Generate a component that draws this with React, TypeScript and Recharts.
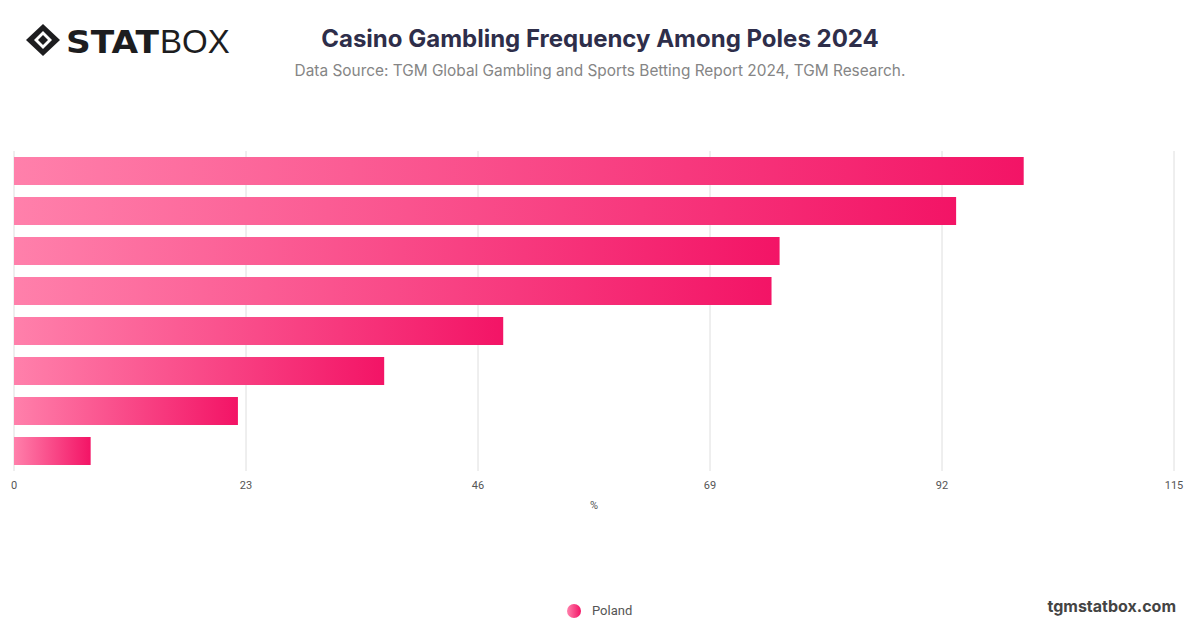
import React from "react";
import { Bar, BarChart, CartesianGrid, XAxis, YAxis } from "recharts";

const categories = ["A", "B", "C", "D", "E", "F", "G", "H"];
const poland = [100.1, 93.4, 75.9, 75.1, 48.5, 36.7, 22.2, 7.6];
const xTicks = [0, 23, 46, 69, 92, 115];

const data = categories.map((c, i) => ({ category: c, Poland: poland[i] }));

function Logo() {
  return (
    <svg width={210} height={40} style={{ position: "absolute", left: 24, top: 21 }}>
      <g transform="translate(19,19)">
        <path d="M0,-16 L17,0 L0,16 L-17,0 Z" fill="#1d1d1f" />
        <path d="M0,-9 L9,0 L0,9 L-9,0 Z" fill="#fff" />
        <path d="M0,-5 L5,0 L0,5 L-5,0 Z" fill="#1d1d1f" />
      </g>
      <text x={42} y={32} fontFamily="DejaVu Sans, sans-serif" fontWeight={900} fontSize={32} fill="#1d1d1f" textLength={93} lengthAdjust="spacingAndGlyphs">
        STAT
      </text>
      <text x={136} y={32} fontFamily="Liberation Sans, sans-serif" fontWeight={300} fontSize={33} fill="#1d1d1f">
        BOX
      </text>
    </svg>
  );
}

export default function App() {
  return (
    <div style={{ position: "absolute", left: 0, top: 0, width: 1200, height: 628, background: "#fff", fontFamily: "Inter, sans-serif" }}>
      <Logo />
      <div style={{ position: "absolute", left: 0, width: 1200, top: 24, textAlign: "center", fontSize: 24, fontWeight: 700, color: "#2e2e4a" }}>
        Casino Gambling Frequency Among Poles 2024
      </div>
      <div style={{ position: "absolute", left: 0, width: 1200, top: 61, textAlign: "center", fontSize: 15.4, color: "#858585" }}>
        Data Source: TGM Global Gambling and Sports Betting Report 2024, TGM Research.
      </div>
      <div style={{ position: "absolute", left: 0, top: 0 }}>
        <BarChart
          width={1200}
          height={628}
          data={data}
          layout="vertical"
          margin={{ top: 151, right: 26, left: 14, bottom: 117 }}
          barCategoryGap={6}
        >
          <defs>
            <linearGradient id="pinkGrad" x1="0" y1="0" x2="1" y2="0">
              <stop offset="0%" stopColor="#ff80ab" />
              <stop offset="100%" stopColor="#f31466" />
            </linearGradient>
          </defs>
          <CartesianGrid horizontal={false} stroke="#dedede" />
          <XAxis
            type="number"
            domain={[0, 115]}
            ticks={xTicks}
            axisLine={false}
            tickLine={false}
            tickMargin={4}
            height={40}
            tick={{ fontSize: 11, fill: "#555", fontFamily: "Roboto, sans-serif" }}
            label={{ value: "%", position: "insideBottom", offset: 2, fontSize: 11, fill: "#555", fontFamily: "Roboto, sans-serif" }}
          />
          <YAxis
            type="category"
            dataKey="category"
            width={0}
            tick={false}
            tickSize={4}
            axisLine={{ stroke: "#333" }}
            tickLine={{ stroke: "#333" }}
          />
          <Bar dataKey="Poland" fill="url(#pinkGrad)" barSize={28} isAnimationActive={false} />
        </BarChart>
      </div>
      <div style={{ position: "absolute", left: 567, top: 603, display: "flex", alignItems: "center", fontSize: 13, color: "#555", fontFamily: "Roboto, sans-serif" }}>
        <span style={{ width: 14, height: 14, borderRadius: 7, background: "linear-gradient(90deg, #ff80ab, #f31466)", marginRight: 11, display: "inline-block" }} />
        Poland
      </div>
      <div style={{ position: "absolute", right: 24, top: 596, fontSize: 16, fontWeight: 700, color: "#444" }}>
        tgmstatbox.com
      </div>
    </div>
  );
}
